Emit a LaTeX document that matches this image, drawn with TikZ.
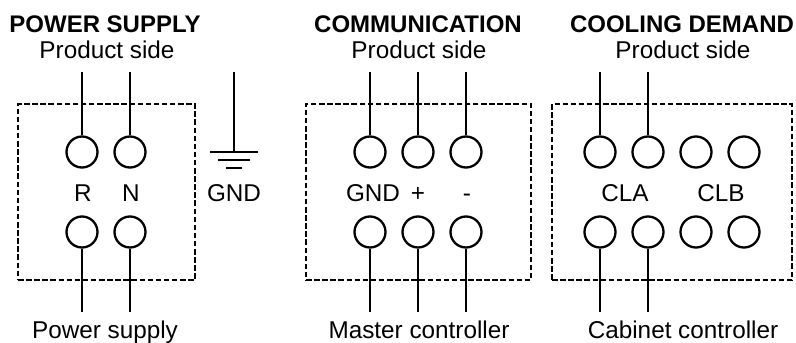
\documentclass[tikz,border=0pt]{standalone}
\usepackage{fontspec}
\setmainfont{Liberation Sans}
\usetikzlibrary{positioning}
\tikzstyle{terminal} = [circle, minimum size=31pt, inner sep=0pt, draw=black, line width=2.3pt]
\tikzstyle{block} = [rectangle, draw=black, line width=2.4pt, dash pattern=on 5.5pt off 2.6pt, inner sep=0pt]
\tikzstyle{wire} = [line width=2.3pt]
\tikzstyle{heading} = [anchor=base, font=\fontsize{24}{24}\selectfont\bfseries, inner sep=0pt]
\tikzstyle{caption} = [anchor=base, font=\fontsize{24.3}{24.3}\selectfont, inner sep=0pt]

\begin{document}
\begin{tikzpicture}[x=1pt, y=-1pt, node distance=14.7pt]
    \useasboundingbox (0,0) rectangle (796,343);

    % Power supply
    \node (psbox) [block, minimum width=177pt, minimum height=176pt] at (106.5,192) {};
    \node (pstitle) [heading] at (105,32) {POWER SUPPLY};
    \node (psside) [caption] at (107,58.5) {Product side};
    \node (pssource) [caption] at (105,338.5) {Power supply};
    \node (ptop1) [terminal] at (82,152) {};
    \node (ptop2) [terminal, right=of ptop1] {};
    \node (pbot1) [terminal] at (82,232) {};
    \node (pbot2) [terminal, right=of pbot1] {};
    \node (plabr) [caption] at (83,201) {R};
    \node (plabn) [caption] at (131,201) {N};

    % Ground symbol
    \coordinate (gndtop) at (234,72);
    \coordinate (gndbar) at (234,152);
    \coordinate (gndmid) at (234,160);
    \coordinate (gndlow) at (234,168);
    \node (gndlab) [caption] at (234,201) {GND};
    \draw [wire] (gndtop) -- (gndbar);
    \draw [wire] ([xshift=-24pt]gndbar) -- ([xshift=24pt]gndbar);
    \draw [wire] ([xshift=-16pt]gndmid) -- ([xshift=16pt]gndmid);
    \draw [wire] ([xshift=-8pt]gndlow) -- ([xshift=8pt]gndlow);

    % Communication
    \node (cmbox) [block, minimum width=225pt, minimum height=176pt] at (418.5,192) {};
    \node (cmtitle) [heading] at (418,32) {COMMUNICATION};
    \node (cmside) [caption] at (419,58.5) {Product side};
    \node (cmsource) [caption] at (419,338.5) {Master controller};
    \node (ctop1) [terminal] at (370,152) {};
    \node (ctop2) [terminal, right=of ctop1] {};
    \node (ctop3) [terminal, right=of ctop2] {};
    \node (cbot1) [terminal] at (370,232) {};
    \node (cbot2) [terminal, right=of cbot1] {};
    \node (cbot3) [terminal, right=of cbot2] {};
    \node (clabg) [caption] at (373,201) {GND};
    \node (clabp) [caption] at (418,201) {+};
    \node (clabm) [caption] at (467,201) {-};

    % Cooling demand
    \node (cdbox) [block, minimum width=240pt, minimum height=176pt] at (672,192) {};
    \node (cdtitle) [heading] at (682,32) {COOLING DEMAND};
    \node (cdside) [caption] at (683,58.5) {Product side};
    \node (cdsource) [caption] at (683,338.5) {Cabinet controller};
    \node (dtop1) [terminal] at (600,152) {};
    \node (dtop2) [terminal, right=of dtop1] {};
    \node (dtop3) [terminal, right=of dtop2] {};
    \node (dtop4) [terminal, right=of dtop3] {};
    \node (dbot1) [terminal] at (600,232) {};
    \node (dbot2) [terminal, right=of dbot1] {};
    \node (dbot3) [terminal, right=of dbot2] {};
    \node (dbot4) [terminal, right=of dbot3] {};
    \node (dlaba) [caption] at (625,201) {CLA};
    \node (dlabb) [caption] at (721,201) {CLB};

    % Wires
    \foreach \pin in {ptop1, ptop2, ctop1, ctop2, ctop3, dtop1, dtop2} {
        \coordinate (\pin end) at (\pin.north |- 0,72);
        \draw [wire] (\pin end) -- (\pin);
    }
    \foreach \pin in {pbot1, pbot2, cbot1, cbot2, cbot3, dbot1, dbot2} {
        \coordinate (\pin end) at (\pin.south |- 0,312);
        \draw [wire] (\pin) -- (\pin end);
    }
\end{tikzpicture}
\end{document}
